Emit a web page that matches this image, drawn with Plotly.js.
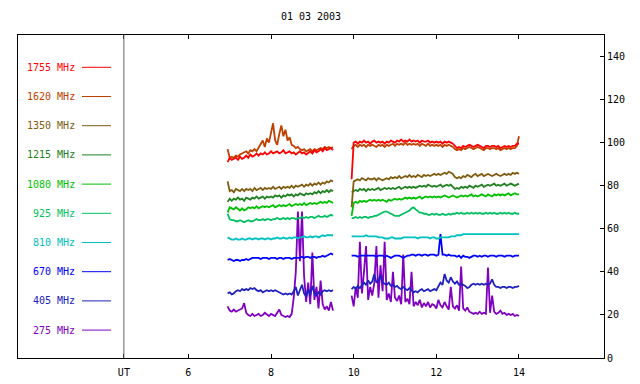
<!DOCTYPE html>
<html>
<head>
<meta charset="utf-8">
<script src="https://cdn.plot.ly/plotly-3.0.1.min.js"></script>
<style>html,body{margin:0;padding:0;background:#fff;}#chart{width:640px;height:384px;}</style>
</head>
<body>
<div id="chart"></div>
<script>
// ---- data ----
const chartTitle = "01 03 2003";
const freqLabels = ["1755 MHz","1620 MHz","1350 MHz","1215 MHz","1080 MHz","925 MHz","810 MHz","670 MHz","405 MHz","275 MHz"];
const freqColors = ["#ff0000","#c04000","#805c10","#208020","#00c000","#00c060","#00c0c0","#0000ff","#2020c0","#8000c0"];
const xTickVals = [4.44, 6, 8, 10, 12, 14];
const xTickText = ["UT", "6", "8", "10", "12", "14"];
const yTickVals = [0, 20, 40, 60, 80, 100, 120, 140];
const utMark = 4.44;

// sampling of the two recording segments (hours UT)
const seg1Start = 6.95, seg2Start = 9.95, sampleStep = 0.05;

// segment 1 (6.95 .. 9.50 UT) and segment 2 (9.95 .. 14.00 UT)
const f1755a = [91,93,92,92.5,93,92,93.5,92.5,93,94, 93,94.5,93.5,94,95,94,95,94.5,95.5,94.5, 95,96,95,95.5,96,95,95.5,96.5,95,95.5, 96,95,95.5,94.5,95.5,96,95,95.5,94.5,95.5, 96,95,96.5,95.5,96,97,96,97.5,96.5,97, 97.5,96.5];
const f1755b = [83,100,100.5,99.5,100.5,100,101,100,100.5,99.5, 100.5,101,100,100.5,100,100.5,99.5,100.5,100,101, 100.5,100,101,100.5,101.5,100.5,101,100.5,101.5,100.5, 101,100.5,101,100,101,100.5,100.5,101,100,100.5, 100,100.5,100,100.5,99.5,100.5,100,100.5,100,99.5, 98.5,97.5,98,97.5,98.5,98,98.5,99,98.5,98, 98.5,99,98.5,98,97.5,98.5,98.5,98,98.5,98.5, 98,98.5,97.5,98,98.5,98,98.5,98,98.5,98.5, 99.5,99.5];

const f1620a = [97,93,93.5,93,94,93.5,94.5,95,95.5,96, 95,96.5,96,97,96,97.5,99,101,98,102, 100,105,109,101,99,104,108,103,106,101, 102.5,99,98.5,97.5,98,97,96.5,97,96,96.5, 97,96,97,96.5,97,97.5,97,98,97.5,98, 97.5,98];
const f1620b = [97,98.5,99,98,99,98.5,99,98,99,98.5, 99,98.5,98,99,98.5,99,98,99,98.5,99, 99.5,98.5,99.5,99,99.5,99,100,99,99.5,99, 99.5,99,99.5,98.5,99.5,99,98.5,99.5,98.5,99, 98.5,99,98.5,99,98,99,98.5,99,98.5,98, 97,96.5,97,96.5,97.5,97,97.5,98,97.5,97, 97.5,98,97.5,97,96.5,97.5,97.5,97,97.5,97.5, 97,97.5,96.5,97,97.5,97,97.5,97,97.5,97.5, 98.5,103];

const f1350a = [82,77.5,78,77,78.5,78,77.5,78.5,77.5,78.5, 78,78.5,77.5,79,78,78.5,79,78,79,78.5, 79,78.5,79.5,78.5,79,79.5,78.5,79.5,79,79.5, 79,80,79,80,79.5,80,80.5,79.5,80.5,80, 81,80,81,80.5,81.5,80.5,81.5,81,82,81.5, 82.5,82];
const f1350b = [70,82,82.5,83,82.5,83.5,83,82.5,83.5,83, 83,83.5,82.5,83.5,83,82.5,83,83.5,83,84, 83.5,84,83.5,84.5,83.5,84,84.5,84,85,84, 84.5,84,85,84.5,84,85,84.5,85,84.5,85, 85.5,85,85.5,85,85.5,86,85.5,86.5,86,85.5, 84,83.5,84,83.5,84.5,84,85,84.5,84,85, 85.5,84.5,85,85.5,84.5,85,85.5,85,84.5,85, 85.5,85,84.5,85,85.5,85,85.5,85,86,85.5, 86,85.5];

const f1215a = [72.5,74,73,74,73.5,74.5,73.5,74,73,74.5, 74,73.5,74.5,74,75,74,74.5,75,74,75, 74.5,75,74.5,75.5,75,75.5,74.5,75.5,75,76, 75.5,76,75,76,75.5,76.5,76,75.5,76.5,76, 76.5,76,77,76.5,77.5,76.5,77.5,77,78,77, 78,77.5];
const f1215b = [77,77.5,78,77.5,78.5,78,78.5,77.5,78.5,78, 78.5,78,78.5,79,78,78.5,79,78.5,79,78.5, 79,78.5,79,79.5,78.5,79,79.5,79,79.5,79, 79.5,79,79.5,80,79.5,80,79.5,80.5,80,79.5, 80,79.5,80,80.5,79.5,80,80.5,80,80.5,79.5, 78.5,79,78.5,79.5,79,79.5,79,80,79.5,79, 80,79.5,80,80.5,79.5,80,80.5,80,80.5,81, 80,80.5,80,80.5,81,80,80.5,81,80.5,80, 80.5,81];

const f1080a = [67.5,70,69.5,69,70,69,68.5,69.5,68.5,69, 70,69.5,70,69.5,70.5,69.5,70,70.5,70,70.5, 70,70.5,71,70,70.5,71,70.5,71,70.5,71, 71.5,70.5,71,71.5,71,71.5,71,72,71,71.5, 72,71.5,72,71.5,72,72.5,72,72.5,72,73, 72.5,72];
const f1080b = [66,72,72.5,72,73,72.5,73,72.5,73,73.5, 73,73.5,73,73.5,73,73.5,73,72.5,73.5,73, 73.5,74,73.5,74,73.5,74,74.5,74,74.5,74, 74.5,74,74.5,75,74,74.5,75,74.5,75,74.5, 75,74.5,75,74.5,75,75.5,75,74.5,75,75.5, 75,74.5,75,75.5,75,75.5,75,75.5,76,75, 75.5,75,75.5,76,75.5,75,76,75.5,75,76, 75.5,76,75.5,76,75.5,76,76.5,75.5,76,76.5, 76,76];

const f925a = [67,64.5,64,64,63.5,63.5,64,63.5,63,63.5, 64,63.5,63.5,64,64.5,64,64,64.5,64,64.5, 64.5,64,64.5,64.5,65,64.5,64.5,65,64.5,65, 64.5,65,65,64.5,65,65,65.5,65,65.5,65, 65.5,65.5,65,65.5,66,65.5,65.5,66,65.5,66, 66.5,66];
const f925b = [65,65,65.5,65,65.5,65,65.5,65.5,65,65.5, 65.5,66,66,66.5,67,67.5,68,68,67.5,67, 66.5,66,66,66,66.5,67,67.5,68,68.5,69.5, 70,69,68,67.5,67.5,67,67,66.5,66.5,67, 66.5,67,66.5,66.5,67,66.5,66.5,67,66.5,67, 67,67.5,67,67.5,67,67,67.5,67,67.5,67, 67.5,67,67.5,67,67,67.5,67,67.5,67,67.5, 67,67,67.5,67,67.5,67,67.5,67,67,67.5, 67,67];

const f810a = [56,55.5,55,55,55.5,55,55,55.5,55,55, 55.5,55.5,55,55.5,55.5,55,55.5,55.5,55,55.5, 55.5,55,55.5,55.5,56,55.5,55.5,56,55.5,55.5, 56,55.5,56,56,55.5,56,56,56.5,56,56, 56.5,56,56.5,56.5,56,56.5,57,56.5,57,57, 57,57];
const f810b = [56.5,56.5,56.5,56.5,56.5,56.5,56.5,57,56.5,56.5, 56.5,56.5,56.5,56,56,56,55.5,55.5,55.5,56, 56,55.5,55.5,55.5,55.5,56,56,56,56,56, 56,56,55.5,56,56,56,56,56,55.5,56, 56,55.5,55.5,56,56,56,56,56,56.5,56.5, 56.5,57,57,57,57.5,57.5,57.5,57.5,57.5,57.5, 57.5,57.5,57.5,57.5,57.5,57.5,57.5,57.5,57.5,57.5, 57.5,57.5,57.5,57.5,57.5,57.5,57.5,57.5,57.5,57.5, 57.5,57.5];

const f670a = [45.5,46,45.5,45,45.5,45.5,45,45.5,45.5,46, 45.5,46,46.5,46.5,46.5,46.5,46,46.5,46.5,46.5, 46,46.5,46.5,46.5,46,46.5,46.5,46,46.5,46.5, 46.5,46,46.5,46.5,46.5,46.5,47,46.5,47,47, 46.5,47,47,46.5,47,47,47.5,47,47.5,48, 48.5,48];
const f670b = [47.5,47.5,47.5,47,47.5,47.5,47.5,47.5,47.5,47.5, 47.5,47.5,47,47.5,47.5,47.5,47,47.5,47,46.5, 47,47.5,47.5,47.5,47,46.5,47,47.5,47.5,48, 48,47.5,48,48,47.5,48,48,47.5,48,48, 48,47.5,48,57.5,48,48,47.5,48,47.5,47.5, 47.5,47,47.5,46.5,47.5,47,47,46.5,47,47.5, 47.5,47,47.5,47,47.5,47.5,47,47.5,47.5,47.5, 47,47.5,47.5,47.5,47,47.5,47.5,47.5,47,47.5, 47.5,47.5];

const f405a = [30,30.5,29.5,30,31,31.5,31,32,31.5,32, 31.5,32.5,32,32.5,31.5,31,31.5,30.5,31,31.5, 31,31.5,31,31.5,31,30.5,30,29.5,30,29.5, 30,29.5,31,33,29,31.5,34,30,28.5,32, 29,33.5,30,29,30.5,29.5,31,31.5,31,31.5, 31,31.5];
const f405b = [32,33,32,33.5,32.5,34,35,34,36,34.5, 35.5,39,35,36,38.5,35,34.5,34,35,33.5, 34,33,33.5,32.5,32,33,32,31.5,32.5,31.5, 30.5,31,30.5,31.5,32,31,31.5,32,31,31.5, 32,31.5,33,35,34,39,36,35,37.5,35.5, 34.5,35.5,34,34.5,34,33.5,32.5,33,34,34.5, 34,34.5,34,34.5,34,34.5,34,34.5,36.5,34, 33,33,32.5,33,33,32.5,33,33,32.5,33, 33,33.5];

const f275a = [24,22,21.5,22.5,21.5,22,22.5,23,25.5,21, 20,19.5,20.5,19.5,20,20.5,19.5,20,21,20, 19.5,20.5,20,19.5,21,22.5,20,19.5,19,19.5, 19,20.5,28,40,68,45,68,38,26,35, 25,49,27,33,23,36,25,22.5,24,22, 26,22];
const f275b = [29,24,33,28,54,30,40,52,27,33, 29,35,52,28,43,31,54,27,30,26, 40,28,26.5,29,25,48,26,27.5,25,40, 24,26,24.5,27,23.5,25.5,24,26,23.5,25, 24.5,23,27,24.5,23.5,26,24,22.5,33,24, 23,24.5,22,42.5,23,22,23.5,21.5,21,20.5, 21,20.5,21.5,20.5,21,20.5,42,21,29,21.5, 20.5,21,22,20.5,21,20,20.5,20,20.5,19.5, 20,19.5];

// series in the same order as the legend labels
const seriesA = [f1755a,f1620a,f1350a,f1215a,f1080a,f925a,f810a,f670a,f405a,f275a];
const seriesB = [f1755b,f1620b,f1350b,f1215b,f1080b,f925b,f810b,f670b,f405b,f275b];

// ---- build ----
function times(start, n) {
  const out = [];
  for (let i = 0; i < n; i++) out.push(Math.round((start + i * sampleStep) * 100) / 100);
  return out;
}

const font = "DejaVu Sans Mono, monospace";
const traces = [];
// draw lowest frequency first so that higher ones lie on top
for (let k = freqLabels.length - 1; k >= 0; k--) {
  const a = seriesA[k], b = seriesB[k];
  const x = times(seg1Start, a.length).concat([null], times(seg2Start, b.length));
  const y = a.concat([null], b);
  traces.push({
    x: x, y: y, type: "scatter", mode: "lines", name: freqLabels[k],
    connectgaps: false, showlegend: false, hoverinfo: "skip",
    line: {color: freqColors[k], width: 1.8, shape: "linear"}
  });
}

// legend drawn on the left in pixel-derived paper coordinates
const plotL = 18, plotW = 586, plotT = 35, plotH = 323;
const legTop = 67.3, legStep = 29.2;
const annotations = [], shapes = [];
freqLabels.forEach((lab, k) => {
  const py = legTop + k * legStep;
  const yp = 1 - (py - plotT) / plotH;
  annotations.push({
    xref: "paper", yref: "paper", x: (77 - plotL) / plotW, y: yp,
    xanchor: "right", yanchor: "middle", showarrow: false, text: lab,
    font: {family: font, size: 10, color: freqColors[k]}
  });
  shapes.push({
    type: "line", xref: "paper", yref: "paper",
    x0: (82 - plotL) / plotW, x1: (111 - plotL) / plotW, y0: yp, y1: yp,
    line: {color: freqColors[k], width: 1}
  });
});
shapes.push({
  type: "line", xref: "x", yref: "paper", x0: utMark, x1: utMark, y0: 0, y1: 1,
  line: {color: "#666666", width: 1}
});

const layout = {
  width: 640, height: 384,
  margin: {l: plotL, r: 36, t: plotT, b: 26, pad: 0},
  paper_bgcolor: "#ffffff", plot_bgcolor: "#ffffff",
  showlegend: false,
  title: {text: chartTitle, font: {family: font, size: 10, color: "#000"},
          x: 0.5, xref: "paper", xanchor: "center", y: 1 - 16 / 384, yref: "container", yanchor: "middle"},
  font: {family: font, size: 10, color: "#000"},
  xaxis: {
    range: [1.878, 16.057], tickmode: "array", tickvals: xTickVals, ticktext: xTickText,
    ticks: "inside", ticklen: 4, tickwidth: 1, tickcolor: "#000",
    showline: true, linecolor: "#000", linewidth: 1, mirror: "ticks",
    showgrid: false, zeroline: false, fixedrange: true, ticklabelstandoff: 5,
    tickfont: {family: font, size: 10, color: "#000"}
  },
  yaxis: {
    range: [0, 150], side: "right", tickmode: "array", tickvals: yTickVals,
    ticks: "inside", ticklen: 4, tickwidth: 1, tickcolor: "#000",
    showline: true, linecolor: "#000", linewidth: 1, mirror: true,
    showgrid: false, zeroline: false, fixedrange: true,
    tickfont: {family: font, size: 10, color: "#000"}
  },
  annotations: annotations,
  shapes: shapes
};

Plotly.newPlot("chart", traces, layout, {staticPlot: true, displayModeBar: false});
</script>
</body>
</html>
